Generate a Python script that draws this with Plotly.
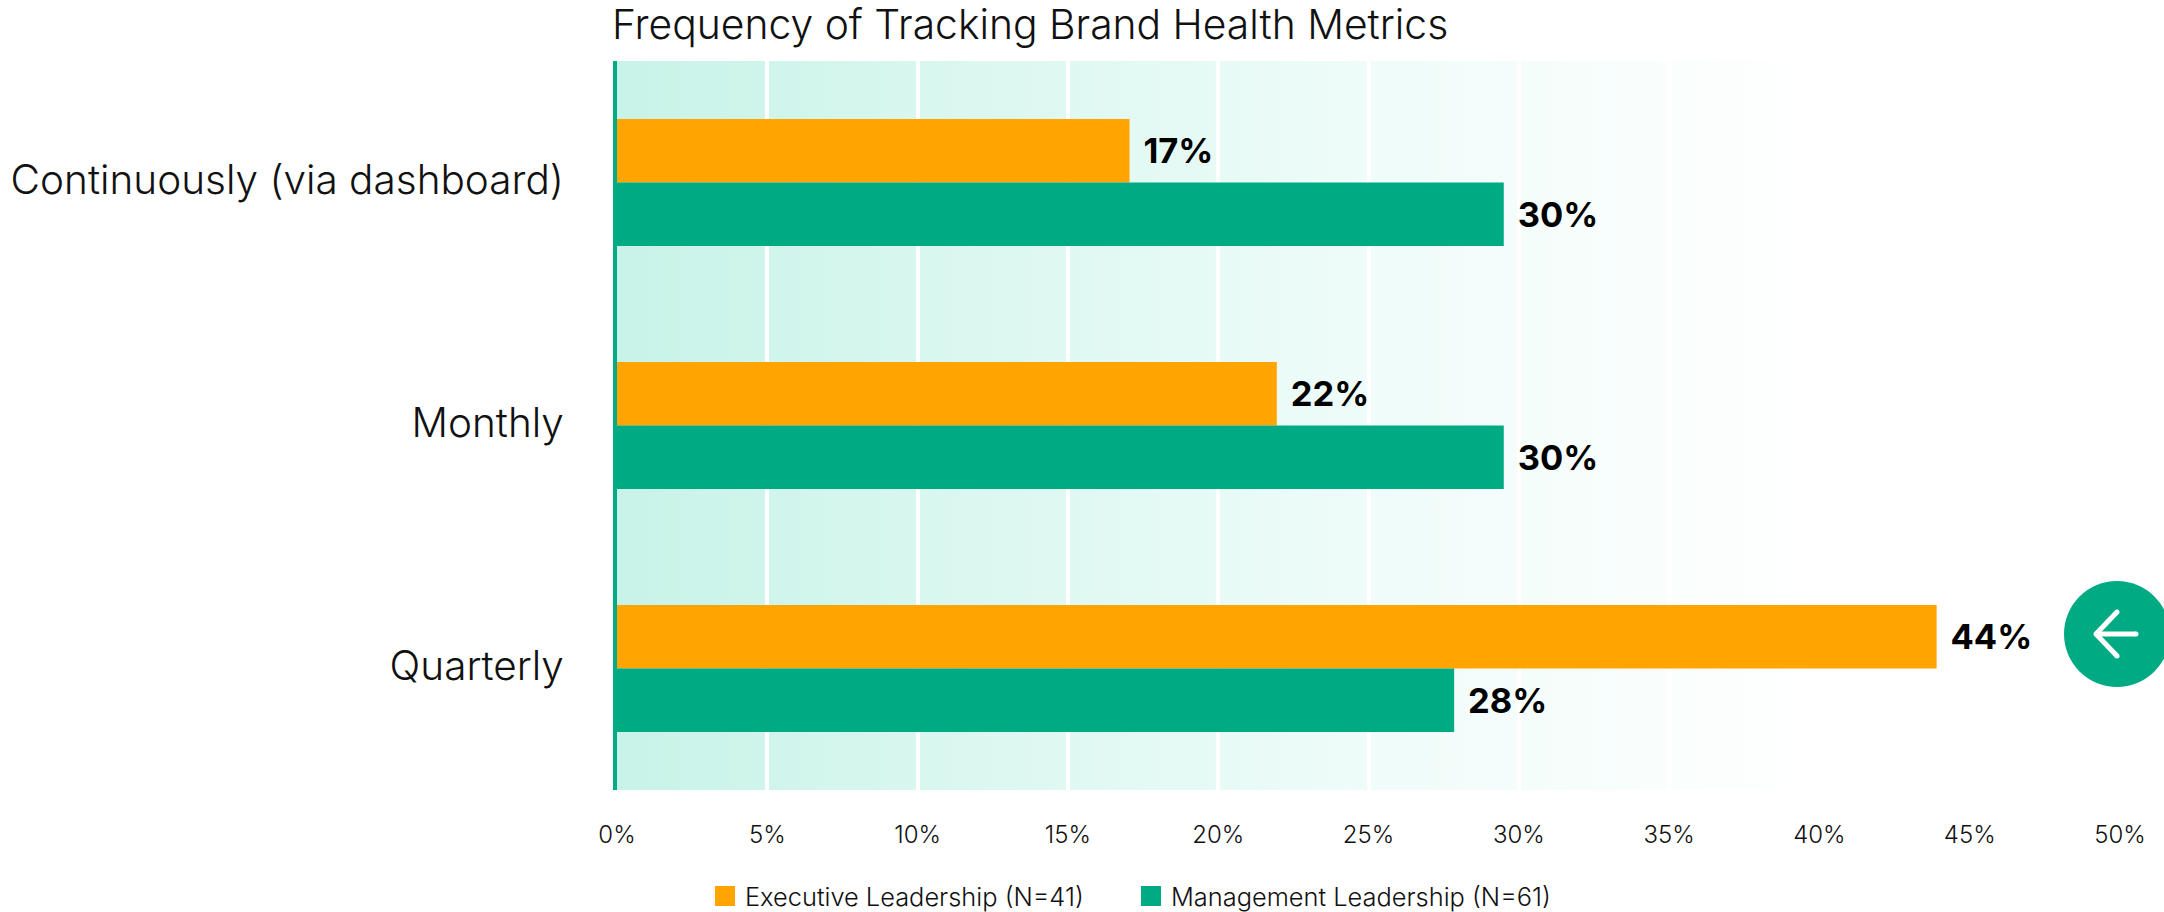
import base64
import plotly.graph_objects as go

categories = ["Continuously (via dashboard)", "Monthly", "Quarterly"]
executive = [17.05, 21.95, 43.9]
management = [29.5, 29.5, 27.85]
executive_labels = ["17%", "22%", "44%"]
management_labels = ["30%", "30%", "28%"]
tick_values = [0, 5, 10, 15, 20, 25, 30, 35, 40, 45, 50]
tick_labels = ["0%", "5%", "10%", "15%", "20%", "25%", "30%", "35%", "40%", "45%", "50%"]

W, H = 2164, 912
L, R, T, B = 617, 2120, 61, 790
FONT = "Inter"
ORANGE = "#FFA400"
GREEN = "#00AB84"
INK = "#111111"


def px(x):
    return (x - L) / (R - L)


def py(y):
    return (B - y) / (B - T)


svg = (
    '<svg xmlns="http://www.w3.org/2000/svg" width="1000" height="10" preserveAspectRatio="none">'
    '<defs><linearGradient id="g" x1="0" x2="1" y1="0" y2="0">'
    '<stop offset="0" stop-color="#C8F3E8"/><stop offset="0.5" stop-color="#EFFCF9"/>'
    '<stop offset="0.8" stop-color="#FFFFFF"/>'
    '</linearGradient></defs><rect width="1000" height="10" fill="url(#g)"/></svg>'
)
gradient_uri = "data:image/svg+xml;base64," + base64.b64encode(svg.encode()).decode()

fig = go.Figure()
label_font = dict(family=FONT, size=34.5, color="#000000", weight=700)
fig.add_bar(
    y=categories, x=executive, orientation="h", name="Executive Leadership (N=41)",
    marker=dict(color=ORANGE, line=dict(width=0)), text=executive_labels, texttemplate="\u00a0\u200a%{text}",
    textposition="outside", textfont=label_font, cliponaxis=False, showlegend=False,
)
fig.add_bar(
    y=categories, x=management, orientation="h", name="Management Leadership (N=61)",
    marker=dict(color=GREEN, line=dict(width=0)), text=management_labels, texttemplate="\u00a0\u200a%{text}",
    textposition="outside", textfont=label_font, cliponaxis=False, showlegend=False,
)
# Legend keys: scatter keys take no bar slot and allow a larger swatch than bars do.
for name, color in [("Executive Leadership (N=41)", ORANGE), ("Management Leadership (N=61)", GREEN)]:
    fig.add_scatter(y=[None], x=[None], mode="markers", name=name,
                    marker=dict(color=color, symbol="square", size=16, line=dict(color=color, width=4)))

shapes = [dict(type="circle", xref="paper", yref="paper", x0=px(2064), x1=px(2170), y0=py(581), y1=py(687),
               fillcolor=GREEN, line=dict(width=0), layer="above")]
for x0, y0, x1, y1 in [(2097, 634, 2136, 634), (2096, 634, 2117, 612), (2096, 634, 2117, 656)]:
    shapes.append(dict(type="line", xref="paper", yref="paper", x0=px(x0), x1=px(x1), y0=py(y0), y1=py(y1),
                       line=dict(color="white", width=5), layer="above"))
for cx, cy in [(2136, 634), (2117, 612), (2117, 656), (2096, 634)]:
    shapes.append(dict(type="circle", xref="paper", yref="paper", x0=px(cx - 2.5), x1=px(cx + 2.5),
                       y0=py(cy + 2.5), y1=py(cy - 2.5), fillcolor="white", line=dict(width=0), layer="above"))

fig.update_layout(
    width=W, height=H, margin=dict(l=L, r=W - R, t=T, b=H - B, pad=0),
    paper_bgcolor="white", plot_bgcolor="white",
    font=dict(family=FONT, color=INK, weight=300),
    barmode="group", bargap=0.477, bargroupgap=0,
    title=dict(text="Frequency of Tracking Brand Health Metrics", xref="container", yref="container",
               x=612 / W, xanchor="left", y=1 - 25 / H, yanchor="middle",
               font=dict(family=FONT, size=40.8, color=INK, weight=300), pad=dict(l=0, r=0, t=0, b=0)),
    xaxis=dict(range=[0, 50], tickvals=tick_values, ticktext=tick_labels, showgrid=True, gridcolor="white",
               gridwidth=4, zeroline=False, showline=False, ticks="", ticklabelstandoff=28,
               tickfont=dict(family=FONT, size=24, color=INK, weight=300), fixedrange=True),
    yaxis=dict(autorange="reversed", showgrid=False, zeroline=False, showline=True, linecolor=GREEN, linewidth=4,
               ticks="", ticklabelstandoff=41, ticklabelshift=3,
               tickfont=dict(family=FONT, size=40.5, color=INK, weight=300), fixedrange=True),
    legend=dict(orientation="h", xref="container", yref="container", x=705 / W, y=1 - 873 / H,
                xanchor="left", yanchor="top", font=dict(family=FONT, size=25.4, color=INK, weight=300),
                itemwidth=30, entrywidth=381, entrywidthmode="pixels", bgcolor="rgba(0,0,0,0)",
                itemclick=False, itemdoubleclick=False),
    images=[dict(source=gradient_uri, xref="x", yref="paper", x=0, y=1, sizex=50, sizey=1,
                 sizing="stretch", layer="below", xanchor="left", yanchor="top")],
    shapes=shapes,
)
fig.write_html("out.html", post_script="document.body.style.margin='0';", config={"displayModeBar": False})
